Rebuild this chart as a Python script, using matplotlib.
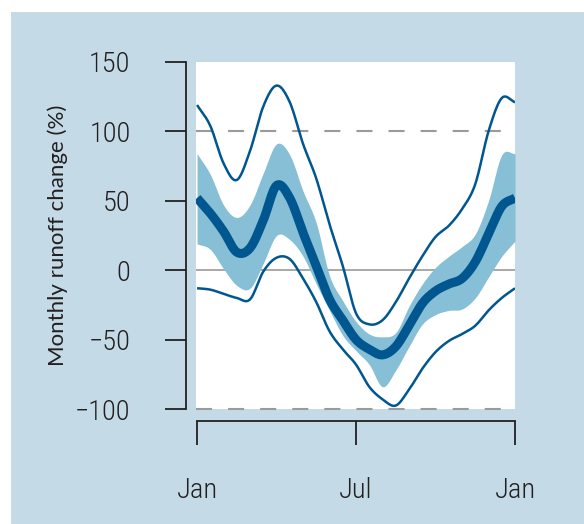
import numpy as np
import matplotlib
matplotlib.use("Agg")
import matplotlib.pyplot as plt
from matplotlib.patches import Rectangle

# month position (0 = Jan, 12 = next Jan), read every half month
months = np.arange(0, 12.01, 0.5)
upper = [119, 104, 77, 65, 86, 118, 133, 121, 91, 66, 33, 3, -31, -39, -36,
         -23, -6, 10, 24, 32, 44, 62, 100, 124, 121]
band_hi = [84, 69, 47, 38, 47, 70, 91, 83, 57, 34, -4, -22, -37, -46, -48,
           -45, -26, -10, 2, 10, 17, 26, 50, 83, 84]
median = [52, 41, 28, 13, 16, 36, 61, 52, 27, 3, -21, -36, -50, -57, -61,
          -55, -40, -24, -15, -10, -6, 6, 26, 46, 52]
band_lo = [19, 15, 1, -11, -13, 5, 25, 22, 10, -10, -29, -47, -58, -68, -84,
           -72, -55, -39, -32, -29, -28, -20, -5, 10, 21]
lower = [-13, -14, -17, -20, -21, -1, 9, 8, -6, -23, -44, -57, -68, -84, -93,
         -97.5, -86, -71, -59, -51, -46, -40, -29, -20, -13]

yticks = [-100, -50, 0, 50, 100, 150]
xticks = [0, 6, 12]
xlabels = ["Jan", "Jul", "Jan"]

PANEL = "#c4dbe7"
LINE = "#00578f"
BAND = "#86bfd6"
GREY = "#9a9a9a"
INK = "#231f20"


def smooth(x, y, n=12):
    """Catmull-Rom pass through the read points, just for drawing."""
    x = np.asarray(x, float)
    y = np.asarray(y, float)
    yp = np.concatenate([[2 * y[0] - y[1]], y, [2 * y[-1] - y[-2]]])
    xs, ys = [], []
    t = np.linspace(0, 1, n, endpoint=False)
    for i in range(len(y) - 1):
        p0, p1, p2, p3 = yp[i], yp[i + 1], yp[i + 2], yp[i + 3]
        ys.append(0.5 * (2 * p1 + (-p0 + p2) * t + (2 * p0 - 5 * p1 + 4 * p2 - p3) * t ** 2
                         + (-p0 + 3 * p1 - 3 * p2 + p3) * t ** 3))
        xs.append(x[i] + (x[i + 1] - x[i]) * t)
    xs.append([x[-1]]); ys.append([y[-1]])
    return np.concatenate(xs), np.concatenate(ys)


plt.rcParams["font.family"] = ["Roboto Condensed", "DejaVu Sans"]
plt.rcParams["font.weight"] = "light"

fig = plt.figure(figsize=(5.84, 5.24), dpi=100, facecolor="white")
fig.patches.append(Rectangle((11 / 584, 0), 1, 1 - 12 / 524, transform=fig.transFigure,
                             facecolor=PANEL, edgecolor="none", zorder=-10))
ax = fig.add_axes([196 / 584, 1 - 409 / 524, 319 / 584, 347 / 524])
ax.set_facecolor("white")

ax.axhline(100, color=GREY, lw=1.5, ls=(0, (7.7, 7.7)), zorder=1)
ax.axhline(-100, color=GREY, lw=1.5, ls=(0, (7.7, 7.7)), zorder=1, clip_on=False)
ax.axhline(0, color=GREY, lw=1.2, zorder=1)

xs, hi = smooth(months, band_hi)
_, lo = smooth(months, band_lo)
ax.fill_between(xs, lo, hi, color=BAND, lw=0, zorder=2)
for series, lw in ((upper, 1.8), (lower, 1.8), (median, 6.5)):
    sx, sy = smooth(months, series)
    ax.plot(sx, sy, color=LINE, lw=lw, solid_capstyle="butt", zorder=3)

ax.set_xlim(-0.04, 12)
ax.set_ylim(-100, 150)
ax.set_yticks(yticks)
ax.set_yticklabels([f"{v}".replace("-", "\u2212") for v in yticks])
ax.set_xticks(xticks)
ax.set_xticklabels(xlabels)

for side in ("top", "right"):
    ax.spines[side].set_visible(False)
ax.spines["left"].set_position(("outward", 7.2))
ax.spines["bottom"].set_position(("outward", 8.6))
ax.spines["left"].set_bounds(-100, 150)
ax.spines["bottom"].set_bounds(0, 12)
for side in ("left", "bottom"):
    ax.spines[side].set_color(INK)
    ax.spines[side].set_linewidth(1.3)
ax.tick_params(axis="y", direction="out", length=15, width=1.3, color=INK,
               labelsize=20.5, labelcolor=INK, pad=25)
ax.tick_params(axis="x", direction="out", length=17, width=1.3, color=INK,
               labelsize=20.5, labelcolor=INK, pad=23)

ax.set_ylabel("Monthly runoff change (%)", fontsize=16, color=INK,
              family=["Lato", "DejaVu Sans"], fontweight="normal")
ax.yaxis.set_label_coords(-0.40, 0.5)

fig.savefig("out.png", dpi=100, facecolor="white")
